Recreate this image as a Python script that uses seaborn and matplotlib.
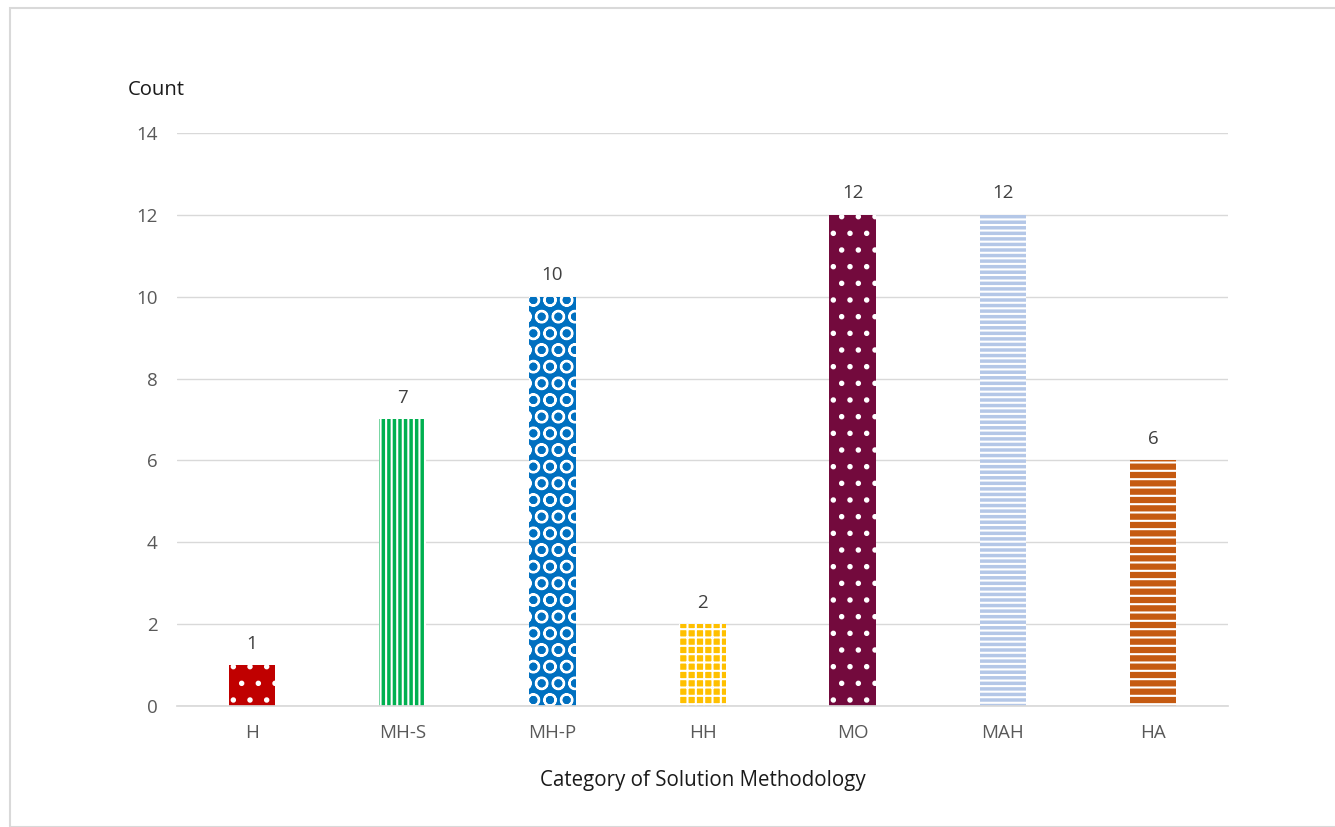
import matplotlib
matplotlib.use("Agg")
import matplotlib.pyplot as plt
import pandas as pd
import seaborn as sns
from matplotlib.patches import Rectangle

categories = ["H", "MH-S", "MH-P", "HH", "MO", "MAH", "HA"]
counts = [1, 7, 10, 2, 12, 12, 6]
colors = ["#C00000", "#00B050", "#0070C0", "#FFC000", "#730A3D", "#B4C7E7", "#C55A11"]
hatches = [".", "|||", "O", "++", ".", "---", "--"]

df = pd.DataFrame({"category": categories, "count": counts})

sns.set_theme(style="white")
plt.rcParams["font.family"] = ["Open Sans", "DejaVu Sans"]
plt.rcParams["hatch.linewidth"] = 1.5

fig = plt.figure(figsize=(13.35, 8.27), dpi=100)
ax = fig.add_axes([0.1326, 0.1463, 0.7873, 0.6929])

sns.barplot(data=df, x="category", y="count", hue="category", palette=colors,
            width=0.31, legend=False, ax=ax, saturation=1)

for bar, h in zip(ax.patches, hatches):
    bar.set_hatch(h)
    bar.set_edgecolor("white")
    bar.set_linewidth(0)

for cont in ax.containers:
    ax.bar_label(cont, padding=9, fontsize=13.5, color="#404040")

ax.set_ylim(0, 14)
ax.set_xlim(-0.5, 6.5)
ax.set_yticks(range(0, 15, 2))
ax.yaxis.grid(True, color="#D9D9D9", linewidth=1)
ax.set_axisbelow(True)
for s in ["top", "right", "left"]:
    ax.spines[s].set_visible(False)
ax.spines["bottom"].set_color("#D9D9D9")
ax.tick_params(axis="both", length=0, labelsize=13.5, colors="#595959")
ax.tick_params(axis="x", pad=13)
ax.tick_params(axis="y", pad=14)

ax.set_xlabel("Category of Solution Methodology", fontsize=14.8, color="#1a1a1a", labelpad=20)
ax.set_ylabel("")
fig.text(128 / 1335, 1 - 90 / 827, "Count", fontsize=14.6, color="#1a1a1a", va="center", ha="left")

fig.patches.append(Rectangle((10 / 1335, 0), 1.0, 1 - 8 / 827, transform=fig.transFigure,
                             fill=False, edgecolor="#D9D9D9", linewidth=1.5))

fig.savefig("out.png", dpi=100)
